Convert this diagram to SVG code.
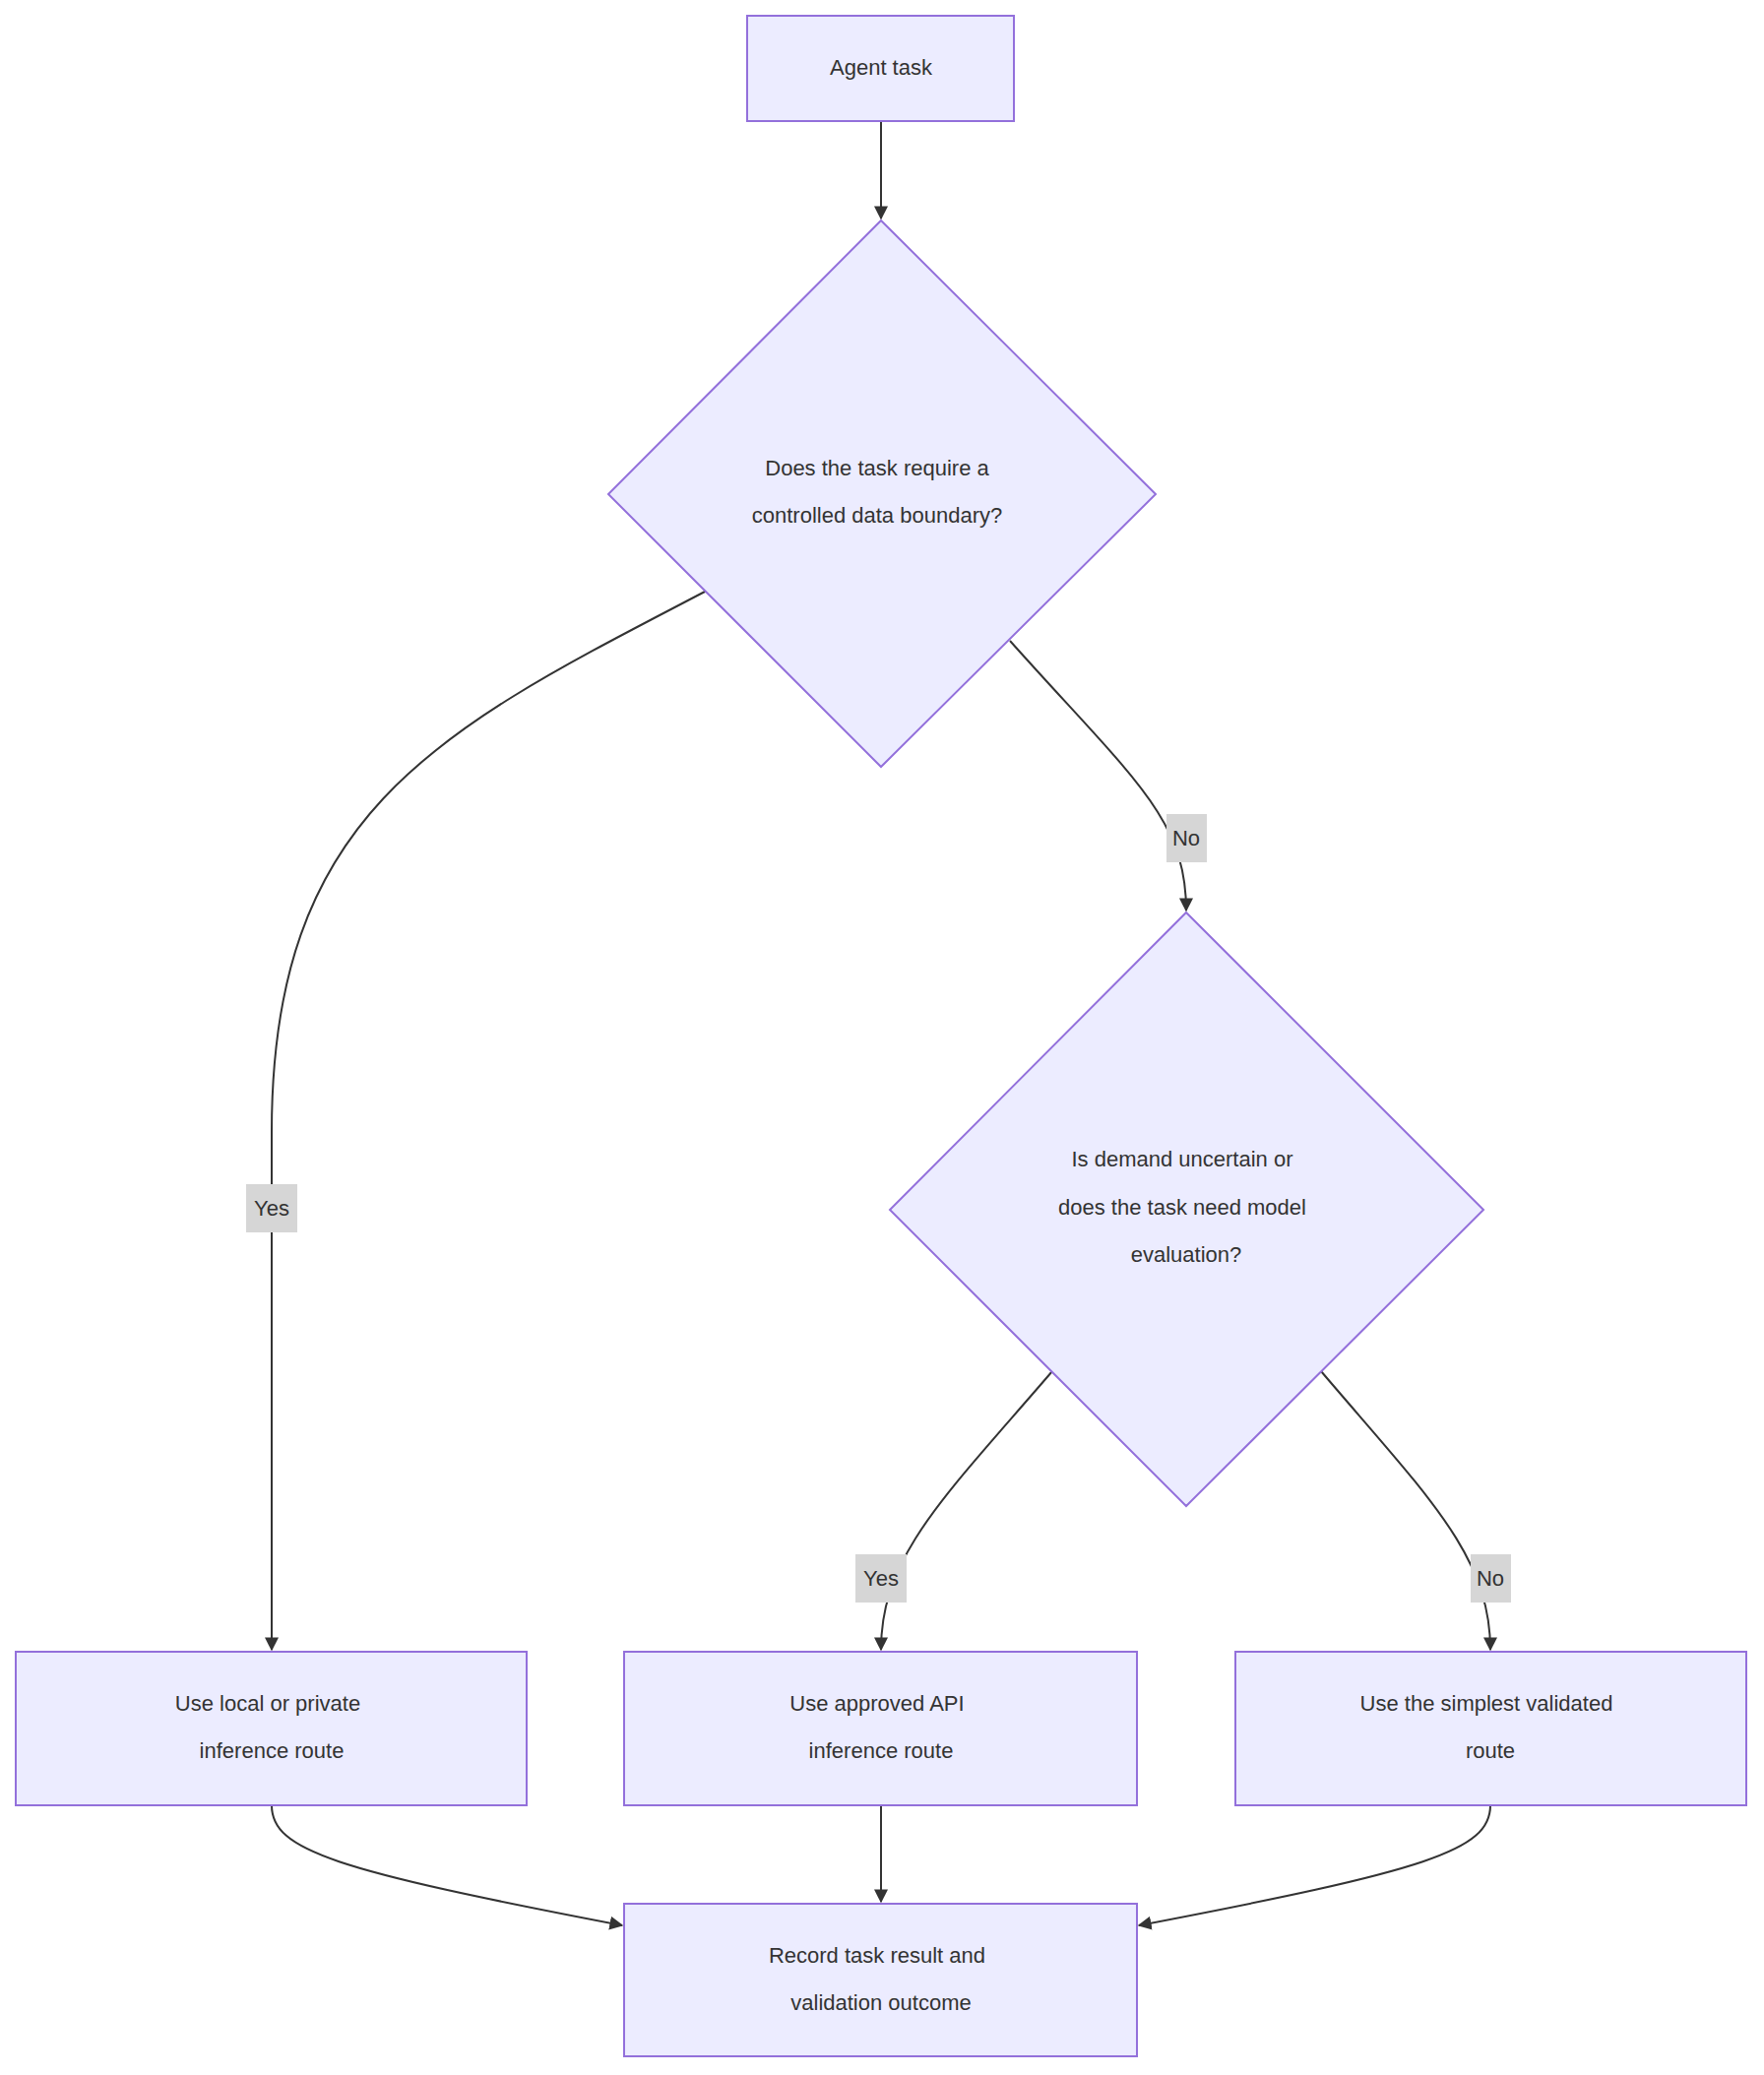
<svg xmlns="http://www.w3.org/2000/svg" width="1792" height="2108" viewBox="0 0 1792 2108">
<style>
.n{fill:#ECECFF;stroke:#9370DB;stroke-width:2}
.e{fill:none;stroke:#333;stroke-width:2}
text{font-family:"Liberation Sans",Arial,sans-serif;font-size:22px;fill:#333;text-anchor:middle}
.lb{fill:#d6d6d6;stroke:none}
</style>
<defs><marker id="a" viewBox="0 0 10 10" refX="9" refY="5" markerWidth="14" markerHeight="14" markerUnits="userSpaceOnUse" orient="auto"><path d="M0,0L10,5L0,10z" fill="#333"/></marker></defs>
<rect width="1792" height="2108" fill="#fff"/>
<g id="edges">
<path class="e" d="M895,123V222" marker-end="url(#a)"/>
<path class="e" d="M718,600C450,740 276,820 276,1150L276,1676" marker-end="url(#a)"/>
<path class="e" d="M1026,651C1150,790 1205,830 1205,925" marker-end="url(#a)"/>
<path class="e" d="M1069,1393C960,1520 895,1580 895,1676" marker-end="url(#a)"/>
<path class="e" d="M1342,1393C1450,1520 1514,1580 1514,1676" marker-end="url(#a)"/>
<path class="e" d="M276,1834C276,1880 340,1900 632,1956" marker-end="url(#a)"/>
<path class="e" d="M895,1834V1932" marker-end="url(#a)"/>
<path class="e" d="M1514,1834C1514,1880 1450,1900 1157,1956" marker-end="url(#a)"/>
<rect class="lb" x="250" y="1203" width="52" height="49"/><text x="276" y="1235">Yes</text>
<rect class="lb" x="1185" y="827" width="41" height="49"/><text x="1205" y="859">No</text>
<rect class="lb" x="869" y="1579" width="52" height="49"/><text x="895" y="1611">Yes</text>
<rect class="lb" x="1494" y="1579" width="41" height="49"/><text x="1514" y="1611">No</text>
</g>
<g id="n1"><rect class="n" x="759" y="16" width="271" height="107"/><text x="895" y="76">Agent task</text></g>
<g id="n2"><polygon class="n" points="895,224 1174,502 895,779 618,502"/><text x="891" y="483">Does the task require a</text><text x="891" y="531">controlled data boundary?</text></g>
<g id="n3"><polygon class="n" points="1205,927 1507,1229 1205,1530 904,1229"/><text x="1201" y="1185">Is demand uncertain or</text><text x="1201" y="1234">does the task need model</text><text x="1205" y="1282">evaluation?</text></g>
<g id="n4"><rect class="n" x="16" y="1678" width="519" height="156"/><text x="272" y="1738">Use local or private</text><text x="276" y="1786">inference route</text></g>
<g id="n5"><rect class="n" x="634" y="1678" width="521" height="156"/><text x="891" y="1738">Use approved API</text><text x="895" y="1786">inference route</text></g>
<g id="n6"><rect class="n" x="1255" y="1678" width="519" height="156"/><text x="1510" y="1738">Use the simplest validated</text><text x="1514" y="1786">route</text></g>
<g id="n7"><rect class="n" x="634" y="1934" width="521" height="155"/><text x="891" y="1994">Record task result and</text><text x="895" y="2042">validation outcome</text></g>
</svg>
